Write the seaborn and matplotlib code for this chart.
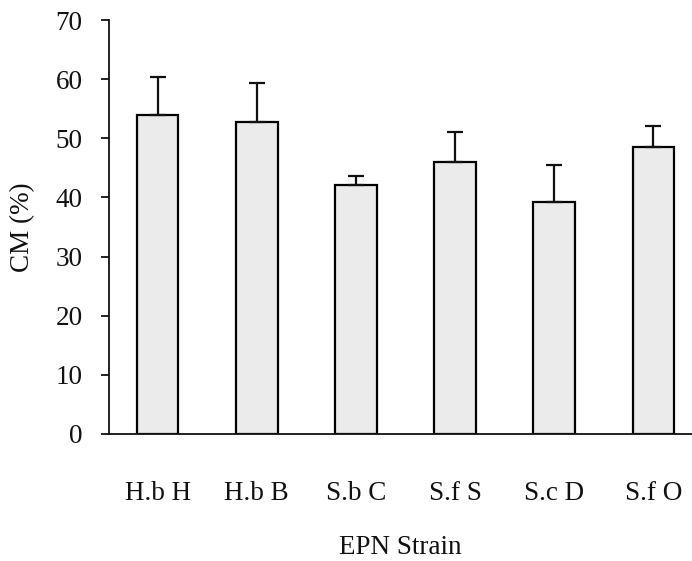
import numpy as np
import pandas as pd
import matplotlib
matplotlib.use('Agg')
import matplotlib.pyplot as plt
import seaborn as sns

strains = ['H.b H', 'H.b B', 'S.b C', 'S.f S', 'S.c D', 'S.f O']
cm_mean = [54.0, 52.8, 42.1, 46.0, 39.2, 48.6]
cm_err  = [6.3, 6.5, 1.5, 5.0, 6.3, 3.4]

df = pd.DataFrame({'strain': strains, 'cm': cm_mean})

sns.set_style('white')
plt.rcParams['font.family'] = ['Liberation Serif', 'DejaVu Serif']

fig = plt.figure(figsize=(6.92, 5.61), dpi=100)
ax = fig.add_axes([0.1575, 0.2264, 0.8425, 0.7379])

sns.barplot(data=df, x='strain', y='cm', color='#ebebeb',
            edgecolor='black', linewidth=1.6, width=0.42,
            errorbar=None, saturation=1, ax=ax)
ax.errorbar(np.arange(len(strains)), cm_mean,
            yerr=[np.zeros(len(cm_err)), cm_err],
            fmt='none', ecolor='#111111', elinewidth=1.6,
            capsize=5.5, capthick=1.6, zorder=1)

ax.set_xlim(-0.49, 5.39)
ax.set_ylim(0, 70)
ax.set_yticks(range(0, 71, 10))
sns.despine(ax=ax)
for s in ['left', 'bottom']:
    ax.spines[s].set_color('#111111')
    ax.spines[s].set_linewidth(1.3)

ax.tick_params(axis='y', length=6, width=1.3, pad=13,
               labelsize=19.5, colors='#111111', left=True)
ax.tick_params(axis='x', length=0, pad=34, labelsize=19.5,
               colors='#111111')
ax.set_xlabel('EPN Strain', fontsize=19.5, labelpad=21, color='#111111')
ax.set_ylabel('CM (%)', fontsize=19.5, labelpad=15, color='#111111')

fig.savefig('out.png', dpi=100)
